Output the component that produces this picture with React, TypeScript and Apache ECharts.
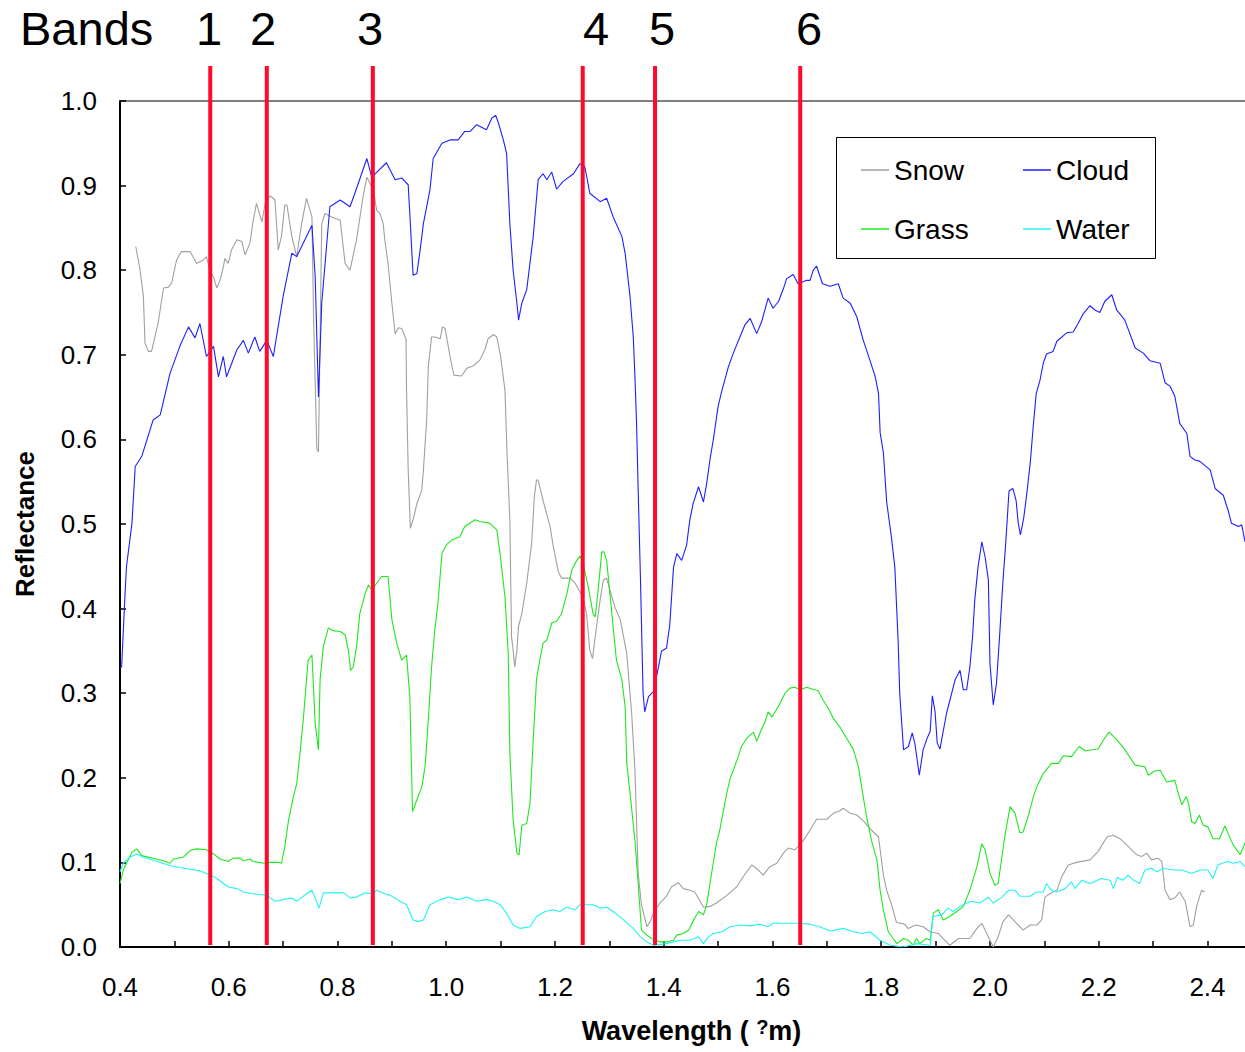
import React, { useEffect, useRef } from 'react';
import * as echarts from 'echarts';

// Wavelength (µm), reflectance pairs
const snow: [number, number][] = [
  [0.429, 0.828], [0.437, 0.800], [0.443, 0.769], [0.446, 0.714], [0.452, 0.704], [0.458, 0.704], [0.470, 0.737],
  [0.480, 0.779], [0.489, 0.780], [0.495, 0.785], [0.504, 0.812], [0.513, 0.822], [0.529, 0.822], [0.541, 0.808],
  [0.553, 0.812], [0.559, 0.816], [0.566, 0.798], [0.572, 0.792], [0.578, 0.779], [0.584, 0.788], [0.590, 0.804],
  [0.593, 0.814], [0.599, 0.808], [0.605, 0.824], [0.615, 0.836], [0.624, 0.834], [0.630, 0.818], [0.639, 0.832],
  [0.645, 0.859], [0.651, 0.879], [0.661, 0.857], [0.667, 0.879], [0.676, 0.888], [0.685, 0.883], [0.691, 0.824],
  [0.697, 0.840], [0.703, 0.877], [0.707, 0.877], [0.716, 0.840], [0.725, 0.816], [0.734, 0.855], [0.743, 0.885],
  [0.753, 0.863], [0.756, 0.745], [0.762, 0.589], [0.765, 0.585], [0.771, 0.855], [0.777, 0.867], [0.789, 0.863],
  [0.805, 0.859], [0.814, 0.808], [0.823, 0.800], [0.835, 0.836], [0.847, 0.887], [0.854, 0.910], [0.866, 0.895],
  [0.872, 0.871], [0.878, 0.867], [0.884, 0.855], [0.887, 0.836], [0.893, 0.808], [0.900, 0.761], [0.906, 0.725],
  [0.912, 0.732], [0.918, 0.731], [0.926, 0.719], [0.927, 0.658], [0.930, 0.564], [0.934, 0.495], [0.939, 0.505],
  [0.946, 0.524], [0.955, 0.540], [0.958, 0.564], [0.964, 0.623], [0.967, 0.686], [0.973, 0.721], [0.979, 0.721],
  [0.989, 0.719], [0.993, 0.733], [0.998, 0.731], [1.007, 0.698], [1.014, 0.676], [1.028, 0.675], [1.038, 0.684],
  [1.050, 0.687], [1.062, 0.694], [1.071, 0.706], [1.077, 0.719], [1.087, 0.724], [1.093, 0.721], [1.100, 0.698],
  [1.108, 0.658], [1.112, 0.580], [1.117, 0.505], [1.120, 0.367], [1.123, 0.351], [1.126, 0.331], [1.130, 0.351],
  [1.133, 0.379], [1.139, 0.394], [1.148, 0.430], [1.157, 0.477], [1.162, 0.532], [1.166, 0.552], [1.169, 0.552],
  [1.178, 0.528], [1.191, 0.497], [1.197, 0.473], [1.206, 0.444], [1.212, 0.436], [1.228, 0.436], [1.237, 0.430],
  [1.246, 0.420], [1.252, 0.412], [1.258, 0.394], [1.264, 0.351], [1.269, 0.341], [1.274, 0.367], [1.283, 0.410],
  [1.289, 0.434], [1.295, 0.436], [1.301, 0.422], [1.310, 0.402], [1.320, 0.387], [1.332, 0.347], [1.341, 0.276],
  [1.347, 0.209], [1.353, 0.087], [1.359, 0.050], [1.369, 0.024], [1.375, 0.030], [1.381, 0.040], [1.393, 0.052],
  [1.405, 0.060], [1.414, 0.071], [1.427, 0.076], [1.436, 0.069], [1.448, 0.067], [1.457, 0.065], [1.467, 0.054],
  [1.473, 0.047], [1.485, 0.048], [1.497, 0.052], [1.516, 0.061], [1.534, 0.071], [1.546, 0.083], [1.562, 0.097],
  [1.574, 0.091], [1.583, 0.085], [1.595, 0.095], [1.608, 0.099], [1.620, 0.111], [1.629, 0.117], [1.641, 0.115],
  [1.651, 0.121], [1.657, 0.126], [1.669, 0.138], [1.681, 0.151], [1.700, 0.151], [1.712, 0.158], [1.724, 0.161],
  [1.730, 0.164], [1.743, 0.158], [1.755, 0.156], [1.767, 0.149], [1.782, 0.138], [1.795, 0.130], [1.804, 0.085],
  [1.810, 0.067], [1.819, 0.050], [1.828, 0.029], [1.843, 0.027], [1.849, 0.022], [1.864, 0.026], [1.877, 0.024],
  [1.890, 0.018], [1.905, 0.016], [1.914, 0.010], [1.926, 0.002], [1.942, 0.010], [1.963, 0.010], [1.976, 0.022],
  [1.985, 0.028], [1.994, 0.016], [2.000, 0.008], [2.006, 0.000], [2.015, 0.012], [2.024, 0.030], [2.034, 0.038],
  [2.046, 0.030], [2.061, 0.020], [2.074, 0.026], [2.086, 0.026], [2.095, 0.032], [2.101, 0.059], [2.110, 0.063],
  [2.123, 0.067], [2.132, 0.083], [2.144, 0.097], [2.159, 0.100], [2.184, 0.103], [2.199, 0.113], [2.215, 0.130],
  [2.227, 0.132], [2.239, 0.128], [2.251, 0.121], [2.270, 0.109], [2.279, 0.107], [2.288, 0.111], [2.297, 0.103],
  [2.309, 0.105], [2.316, 0.101], [2.322, 0.067], [2.331, 0.056], [2.340, 0.058], [2.349, 0.065], [2.359, 0.054],
  [2.368, 0.024], [2.374, 0.026], [2.380, 0.048], [2.389, 0.067], [2.395, 0.065],
];

const cloud: [number, number][] = [
  [0.400, 0.330], [0.403, 0.331], [0.409, 0.414], [0.412, 0.450], [0.422, 0.501], [0.428, 0.568], [0.440, 0.580],
  [0.461, 0.623], [0.474, 0.629], [0.492, 0.678], [0.510, 0.710], [0.526, 0.733], [0.538, 0.720], [0.547, 0.737],
  [0.559, 0.698], [0.572, 0.710], [0.581, 0.674], [0.590, 0.698], [0.596, 0.674], [0.615, 0.706], [0.627, 0.717],
  [0.636, 0.702], [0.648, 0.721], [0.657, 0.704], [0.670, 0.717], [0.682, 0.698], [0.700, 0.769], [0.716, 0.820],
  [0.725, 0.816], [0.753, 0.853], [0.759, 0.792], [0.765, 0.650], [0.771, 0.761], [0.786, 0.875], [0.805, 0.883],
  [0.823, 0.875], [0.832, 0.891], [0.854, 0.932], [0.863, 0.910], [0.890, 0.927], [0.906, 0.907], [0.918, 0.909],
  [0.930, 0.901], [0.933, 0.867], [0.939, 0.794], [0.946, 0.796], [0.952, 0.824], [0.958, 0.855], [0.970, 0.895],
  [0.976, 0.932], [0.992, 0.950], [1.007, 0.954], [1.022, 0.954], [1.034, 0.964], [1.044, 0.964], [1.056, 0.972],
  [1.074, 0.966], [1.084, 0.980], [1.091, 0.983], [1.096, 0.974], [1.105, 0.954], [1.111, 0.938], [1.117, 0.855],
  [1.123, 0.800], [1.130, 0.761], [1.133, 0.741], [1.139, 0.761], [1.148, 0.777], [1.160, 0.840], [1.169, 0.907],
  [1.178, 0.914], [1.185, 0.907], [1.194, 0.916], [1.203, 0.896], [1.215, 0.905], [1.234, 0.914], [1.246, 0.926],
  [1.255, 0.922], [1.264, 0.891], [1.283, 0.881], [1.295, 0.885], [1.307, 0.863], [1.323, 0.840], [1.329, 0.820],
  [1.338, 0.769], [1.344, 0.721], [1.347, 0.674], [1.350, 0.619], [1.353, 0.540], [1.357, 0.440], [1.362, 0.300],
  [1.365, 0.278], [1.372, 0.296], [1.381, 0.302], [1.390, 0.330], [1.396, 0.350], [1.405, 0.353], [1.411, 0.380],
  [1.418, 0.449], [1.424, 0.465], [1.433, 0.457], [1.442, 0.475], [1.448, 0.505], [1.454, 0.524], [1.464, 0.544],
  [1.473, 0.526], [1.479, 0.548], [1.485, 0.576], [1.491, 0.599], [1.500, 0.639], [1.507, 0.658], [1.519, 0.686],
  [1.528, 0.702], [1.540, 0.721], [1.549, 0.735], [1.559, 0.743], [1.571, 0.725], [1.580, 0.739], [1.586, 0.753],
  [1.592, 0.767], [1.601, 0.755], [1.611, 0.763], [1.620, 0.778], [1.626, 0.790], [1.638, 0.795], [1.647, 0.784],
  [1.663, 0.788], [1.669, 0.788], [1.675, 0.800], [1.681, 0.805], [1.692, 0.784], [1.706, 0.781], [1.721, 0.784],
  [1.730, 0.767], [1.743, 0.761], [1.755, 0.745], [1.767, 0.717], [1.779, 0.694], [1.789, 0.674], [1.795, 0.654],
  [1.798, 0.608], [1.804, 0.584], [1.810, 0.526], [1.819, 0.483], [1.825, 0.449], [1.831, 0.363], [1.834, 0.300],
  [1.841, 0.233], [1.850, 0.237], [1.857, 0.253], [1.862, 0.240], [1.870, 0.203], [1.877, 0.233], [1.884, 0.246],
  [1.890, 0.255], [1.894, 0.297], [1.899, 0.278], [1.903, 0.241], [1.908, 0.234], [1.920, 0.276], [1.936, 0.316],
  [1.945, 0.327], [1.951, 0.304], [1.957, 0.304], [1.963, 0.331], [1.968, 0.367], [1.972, 0.410], [1.978, 0.449],
  [1.985, 0.479], [1.991, 0.461], [1.997, 0.434], [2.000, 0.335], [2.006, 0.286], [2.012, 0.312], [2.018, 0.371],
  [2.024, 0.434], [2.029, 0.478], [2.035, 0.539], [2.042, 0.542], [2.048, 0.528], [2.052, 0.501], [2.056, 0.487],
  [2.062, 0.507], [2.067, 0.532], [2.074, 0.572], [2.080, 0.619], [2.085, 0.654], [2.092, 0.670], [2.098, 0.690],
  [2.104, 0.701], [2.116, 0.704], [2.123, 0.716], [2.141, 0.726], [2.153, 0.727], [2.162, 0.737], [2.172, 0.749],
  [2.184, 0.758], [2.193, 0.753], [2.202, 0.750], [2.211, 0.763], [2.224, 0.771], [2.233, 0.753], [2.248, 0.741],
  [2.267, 0.708], [2.282, 0.702], [2.294, 0.693], [2.313, 0.690], [2.322, 0.667], [2.331, 0.663], [2.340, 0.651],
  [2.349, 0.619], [2.362, 0.607], [2.368, 0.580], [2.376, 0.576], [2.386, 0.574], [2.405, 0.564], [2.414, 0.542],
  [2.429, 0.534], [2.438, 0.516], [2.444, 0.501], [2.457, 0.497], [2.463, 0.499], [2.469, 0.479],
];

const grass: [number, number][] = [
  [0.400, 0.075], [0.406, 0.091], [0.422, 0.112], [0.431, 0.116], [0.440, 0.108], [0.461, 0.105], [0.480, 0.102],
  [0.492, 0.099], [0.498, 0.104], [0.516, 0.106], [0.529, 0.114], [0.541, 0.116], [0.559, 0.115], [0.572, 0.110],
  [0.584, 0.104], [0.599, 0.101], [0.608, 0.105], [0.621, 0.105], [0.627, 0.102], [0.639, 0.104], [0.645, 0.101],
  [0.664, 0.099], [0.676, 0.100], [0.691, 0.100], [0.697, 0.099], [0.703, 0.118], [0.710, 0.150], [0.719, 0.178],
  [0.725, 0.193], [0.731, 0.229], [0.737, 0.268], [0.743, 0.316], [0.746, 0.339], [0.753, 0.345], [0.759, 0.264],
  [0.765, 0.233], [0.768, 0.316], [0.774, 0.355], [0.783, 0.377], [0.792, 0.374], [0.805, 0.373], [0.814, 0.369],
  [0.820, 0.351], [0.824, 0.327], [0.829, 0.331], [0.835, 0.355], [0.841, 0.394], [0.851, 0.418], [0.857, 0.428],
  [0.863, 0.422], [0.872, 0.430], [0.881, 0.438], [0.893, 0.438], [0.900, 0.387], [0.909, 0.359], [0.918, 0.339],
  [0.927, 0.345], [0.933, 0.296], [0.938, 0.160], [0.946, 0.174], [0.955, 0.189], [0.961, 0.213], [0.967, 0.268],
  [0.973, 0.331], [0.979, 0.375], [0.985, 0.408], [0.992, 0.465], [1.001, 0.476], [1.010, 0.481], [1.025, 0.485],
  [1.034, 0.497], [1.053, 0.505], [1.062, 0.503], [1.080, 0.501], [1.093, 0.493], [1.099, 0.465], [1.108, 0.414],
  [1.114, 0.347], [1.117, 0.229], [1.123, 0.150], [1.130, 0.111], [1.134, 0.109], [1.139, 0.144], [1.148, 0.146],
  [1.154, 0.170], [1.160, 0.245], [1.166, 0.316], [1.172, 0.339], [1.178, 0.359], [1.185, 0.363], [1.194, 0.383],
  [1.203, 0.385], [1.212, 0.394], [1.222, 0.418], [1.231, 0.446], [1.240, 0.457], [1.246, 0.462], [1.252, 0.453],
  [1.261, 0.426], [1.270, 0.394], [1.274, 0.390], [1.280, 0.426], [1.286, 0.467], [1.290, 0.467], [1.295, 0.457],
  [1.304, 0.398], [1.313, 0.339], [1.323, 0.316], [1.329, 0.284], [1.332, 0.217], [1.338, 0.182], [1.347, 0.126],
  [1.353, 0.075], [1.359, 0.020], [1.369, 0.014], [1.378, 0.010], [1.393, 0.006], [1.405, 0.006], [1.418, 0.008],
  [1.424, 0.014], [1.436, 0.016], [1.446, 0.020], [1.455, 0.032], [1.464, 0.042], [1.473, 0.038], [1.479, 0.050],
  [1.485, 0.075], [1.491, 0.099], [1.497, 0.123], [1.503, 0.138], [1.510, 0.162], [1.516, 0.182], [1.522, 0.199],
  [1.528, 0.209], [1.537, 0.225], [1.543, 0.237], [1.553, 0.247], [1.565, 0.254], [1.571, 0.243], [1.577, 0.253],
  [1.586, 0.266], [1.592, 0.278], [1.599, 0.272], [1.605, 0.278], [1.614, 0.288], [1.623, 0.300], [1.632, 0.306],
  [1.641, 0.307], [1.651, 0.304], [1.663, 0.307], [1.672, 0.305], [1.684, 0.303], [1.693, 0.292], [1.703, 0.282],
  [1.712, 0.270], [1.724, 0.260], [1.736, 0.247], [1.749, 0.233], [1.758, 0.213], [1.764, 0.189], [1.773, 0.154],
  [1.782, 0.126], [1.792, 0.103], [1.798, 0.067], [1.804, 0.044], [1.813, 0.018], [1.822, 0.010], [1.829, 0.004],
  [1.841, 0.010], [1.850, 0.008], [1.859, 0.002], [1.865, 0.010], [1.871, 0.004], [1.883, 0.010], [1.890, 0.008],
  [1.896, 0.040], [1.905, 0.044], [1.914, 0.032], [1.926, 0.036], [1.939, 0.042], [1.951, 0.048], [1.963, 0.067],
  [1.976, 0.095], [1.985, 0.122], [1.991, 0.115], [2.000, 0.087], [2.009, 0.073], [2.015, 0.075], [2.022, 0.107],
  [2.028, 0.134], [2.037, 0.166], [2.046, 0.158], [2.055, 0.135], [2.061, 0.136], [2.070, 0.154], [2.080, 0.178],
  [2.086, 0.189], [2.098, 0.205], [2.113, 0.217], [2.126, 0.217], [2.135, 0.226], [2.150, 0.225], [2.164, 0.237],
  [2.175, 0.232], [2.199, 0.234], [2.211, 0.247], [2.219, 0.254], [2.233, 0.245], [2.245, 0.236], [2.267, 0.215],
  [2.285, 0.213], [2.291, 0.203], [2.303, 0.208], [2.313, 0.209], [2.325, 0.195], [2.340, 0.197], [2.346, 0.182],
  [2.353, 0.168], [2.361, 0.178], [2.365, 0.170], [2.371, 0.148], [2.377, 0.146], [2.385, 0.156], [2.392, 0.144],
  [2.401, 0.142], [2.410, 0.128], [2.422, 0.128], [2.432, 0.143], [2.438, 0.134], [2.447, 0.121], [2.460, 0.109],
  [2.469, 0.123],
];

const water: [number, number][] = [
  [0.400, 0.089], [0.406, 0.099], [0.418, 0.106], [0.431, 0.110], [0.443, 0.106], [0.455, 0.104], [0.474, 0.100],
  [0.492, 0.096], [0.510, 0.094], [0.529, 0.092], [0.547, 0.090], [0.566, 0.085], [0.578, 0.081], [0.599, 0.071],
  [0.615, 0.069], [0.627, 0.065], [0.645, 0.063], [0.670, 0.061], [0.685, 0.054], [0.700, 0.056], [0.716, 0.058],
  [0.725, 0.054], [0.743, 0.063], [0.753, 0.067], [0.766, 0.046], [0.774, 0.064], [0.811, 0.064], [0.823, 0.058],
  [0.835, 0.059], [0.851, 0.064], [0.863, 0.063], [0.872, 0.067], [0.887, 0.063], [0.897, 0.061], [0.915, 0.054],
  [0.927, 0.050], [0.939, 0.032], [0.949, 0.030], [0.958, 0.032], [0.970, 0.050], [0.989, 0.056], [1.004, 0.059],
  [1.022, 0.056], [1.038, 0.059], [1.056, 0.054], [1.074, 0.056], [1.087, 0.054], [1.099, 0.050], [1.111, 0.040],
  [1.123, 0.026], [1.136, 0.022], [1.154, 0.024], [1.166, 0.036], [1.182, 0.042], [1.197, 0.044], [1.209, 0.042],
  [1.221, 0.047], [1.237, 0.044], [1.246, 0.050], [1.270, 0.050], [1.283, 0.046], [1.295, 0.047], [1.307, 0.042],
  [1.326, 0.032], [1.344, 0.022], [1.357, 0.012], [1.369, 0.006], [1.381, 0.002], [1.405, 0.004], [1.430, 0.008],
  [1.448, 0.008], [1.464, 0.012], [1.473, 0.004], [1.482, 0.012], [1.491, 0.016], [1.507, 0.018], [1.522, 0.024],
  [1.540, 0.026], [1.559, 0.025], [1.577, 0.027], [1.592, 0.024], [1.601, 0.028], [1.620, 0.028], [1.645, 0.028],
  [1.669, 0.027], [1.687, 0.024], [1.706, 0.019], [1.730, 0.022], [1.749, 0.018], [1.764, 0.016], [1.779, 0.018],
  [1.798, 0.008], [1.816, 0.002], [1.841, 0.000], [1.865, 0.004], [1.890, 0.002], [1.895, 0.036], [1.911, 0.038],
  [1.923, 0.046], [1.932, 0.042], [1.945, 0.048], [1.957, 0.052], [1.966, 0.054], [1.982, 0.052], [1.997, 0.059],
  [2.006, 0.052], [2.022, 0.059], [2.034, 0.067], [2.046, 0.067], [2.055, 0.060], [2.074, 0.060], [2.086, 0.065],
  [2.098, 0.065], [2.104, 0.075], [2.113, 0.067], [2.123, 0.065], [2.138, 0.069], [2.150, 0.077], [2.156, 0.069],
  [2.169, 0.079], [2.184, 0.075], [2.205, 0.081], [2.221, 0.079], [2.227, 0.069], [2.234, 0.082], [2.245, 0.079],
  [2.254, 0.085], [2.264, 0.079], [2.275, 0.075], [2.285, 0.091], [2.297, 0.093], [2.307, 0.089], [2.319, 0.093],
  [2.337, 0.091], [2.353, 0.091], [2.371, 0.087], [2.386, 0.091], [2.401, 0.091], [2.410, 0.081], [2.419, 0.097],
  [2.436, 0.101], [2.448, 0.099], [2.460, 0.101], [2.469, 0.095],
];

const bandWavelengths = [0.566, 0.67, 0.865, 1.251, 1.384, 1.651];
const bandNames = ['1', '2', '3', '4', '5', '6'];
const seriesNames = ['Snow', 'Cloud', 'Grass', 'Water'];
const X_MIN = 0.4;
const X_MAX = 2.469;

const FONT = "'Liberation Sans', Arial, Helvetica, sans-serif";

export default function App() {
  const ref = useRef<HTMLDivElement>(null);

  useEffect(() => {
    if (!ref.current) return;
    const chart = echarts.init(ref.current, null, { renderer: 'svg' });
    const colors = ['#a0a0a0', '#1f1fff', '#1ee81e', '#22f4f4'];
    const seriesData = [snow, cloud, grass, water];

    const legendBase = {
      orient: 'vertical',
      top: 151,
      icon: 'rect',
      itemWidth: 28,
      itemHeight: 1.5,
      itemGap: 31,
      selectedMode: false,
      textStyle: { fontSize: 28, color: '#000', fontFamily: FONT, lineHeight: 28 },
    };

    const option: any = {
      animation: false,
      backgroundColor: '#ffffff',
      textStyle: { fontFamily: FONT, color: '#000' },
      grid: { left: 120, top: 101, right: 0, bottom: 105, containLabel: false },
      legend: [
        { ...legendBase, data: [seriesNames[0], seriesNames[2]], left: 856 },
        { ...legendBase, data: [seriesNames[1], seriesNames[3]], left: 1018 },
      ],
      xAxis: [
        {
          type: 'value',
          min: X_MIN,
          max: X_MAX,
          interval: 0.1,
          position: 'bottom',
          axisLine: { show: true, lineStyle: { color: '#000', width: 2 } },
          axisTick: { show: true, inside: true, length: 6, lineStyle: { color: '#000', width: 1.5 } },
          axisLabel: {
            fontSize: 26,
            color: '#000',
            fontFamily: FONT,
            margin: 27,
            showMaxLabel: false,
            formatter: (v: number) => {
              const k = v * 5;
              return Math.abs(k - Math.round(k)) < 1e-6 ? v.toFixed(1) : '';
            },
          },
          splitLine: { show: false },
          name: '{a|Wavelength ( }{b|?}{a|m)}',
          nameLocation: 'middle',
          nameGap: 70,
          nameTextStyle: {
            fontSize: 27,
            fontWeight: 'bold',
            color: '#000',
            fontFamily: FONT,
            padding: [0, 0, 0, 18],
            rich: {
              a: { fontSize: 27, fontWeight: 'bold', color: '#000', fontFamily: FONT },
              b: { fontSize: 20, fontWeight: 'bold', color: '#000', fontFamily: FONT, verticalAlign: 'top' },
            },
          },
        },
        {
          type: 'value',
          min: X_MIN,
          max: X_MAX,
          position: 'top',
          axisLine: { show: true, lineStyle: { color: '#555', width: 1.5 } },
          axisTick: { show: false },
          axisLabel: { show: false },
          splitLine: { show: false },
        },
      ],
      yAxis: {
        type: 'value',
        min: 0,
        max: 1,
        interval: 0.1,
        axisLine: { show: true, lineStyle: { color: '#000', width: 2 } },
        axisTick: { show: true, inside: true, length: 6, lineStyle: { color: '#000', width: 1.5 } },
        axisLabel: {
          fontSize: 26,
          color: '#000',
          fontFamily: FONT,
          margin: 23,
          formatter: (v: number) => v.toFixed(1),
        },
        splitLine: { show: false },
        name: 'Reflectance',
        nameLocation: 'middle',
        nameGap: 82,
        nameRotate: 90,
        nameTextStyle: { fontSize: 26, fontWeight: 'bold', color: '#000', fontFamily: FONT },
      },
      series: seriesNames.map((name, i) => ({
        name,
        type: 'line',
        xAxisIndex: 0,
        symbol: 'none',
        showSymbol: false,
        data: seriesData[i],
        color: colors[i],
        itemStyle: { color: colors[i] },
        lineStyle: { color: colors[i], width: 1.1 },
        z: 2 + i,
      })),
    };

    chart.setOption(option);

    const yBottom = chart.convertToPixel({ yAxisIndex: 0 }, 0) as number;
    const bandLines = bandWavelengths.map((w) => {
      const x = chart.convertToPixel({ xAxisIndex: 0 }, w) as number;
      return {
        type: 'line',
        z: 100,
        shape: { x1: x, y1: 66, x2: x, y2: yBottom - 2 },
        style: { stroke: '#ff0a2c', lineWidth: 4 },
      };
    });
    const labelX = [209, 263, 370, 596, 662, 809];
    const bandTexts = bandNames.map((t, i) => ({
      type: 'text',
      z: 100,
      x: labelX[i],
      y: 28,
      style: {
        text: t,
        fontSize: 47,
        fontFamily: FONT,
        fill: '#000',
        textAlign: 'center',
        textVerticalAlign: 'middle',
      },
    }));

    chart.setOption({
      graphic: [
        ...bandLines,
        ...bandTexts,
        {
          type: 'text',
          z: 100,
          x: 20,
          y: 28,
          style: {
            text: 'Bands',
            fontSize: 47,
            fontFamily: FONT,
            fill: '#000',
            textAlign: 'left',
            textVerticalAlign: 'middle',
          },
        },
        {
          type: 'rect',
          z: 1,
          shape: { x: 836.5, y: 137.5, width: 319, height: 121 },
          style: { fill: 'rgba(0,0,0,0)', stroke: '#000', lineWidth: 1 },
        },
      ],
    });

    return () => chart.dispose();
  }, []);

  return (
    <div
      ref={ref}
      style={{ position: 'absolute', left: 0, top: 0, width: 1245, height: 1052, background: '#fff' }}
    />
  );
}
